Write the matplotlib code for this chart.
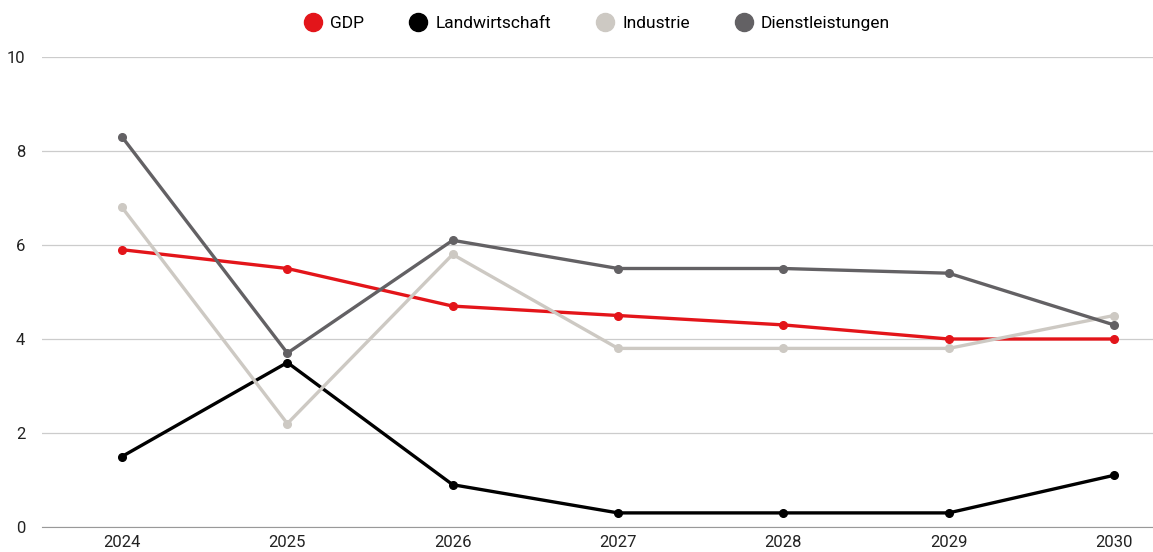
import matplotlib.pyplot as plt

years = ['2024', '2025', '2026', '2027', '2028', '2029', '2030']
gdp = [5.9, 5.5, 4.7, 4.5, 4.3, 4.0, 4.0]
landwirtschaft = [1.5, 3.5, 0.9, 0.3, 0.3, 0.3, 1.1]
industrie = [6.8, 2.2, 5.8, 3.8, 3.8, 3.8, 4.5]
dienstleistungen = [8.3, 3.7, 6.1, 5.5, 5.5, 5.4, 4.3]

series = [('GDP', gdp, '#e3151a'),
          ('Landwirtschaft', landwirtschaft, '#000000'),
          ('Industrie', industrie, '#cdc9c3'),
          ('Dienstleistungen', dienstleistungen, '#636164')]

plt.rcParams['font.family'] = ['Roboto', 'DejaVu Sans']

fig = plt.figure(figsize=(11.53, 5.52), dpi=100)
ax = fig.add_axes([42 / 1153, 25 / 552, 1 - 42 / 1153, (527 - 57) / 552])

x = list(range(len(years)))
for name, vals, col in series:
    ax.plot(x, vals, color=col, lw=2.4, marker='o', ms=5.5, label=name,
            solid_capstyle='round')

ax.set_xlim(-0.484, 6.236)
ax.set_ylim(0, 10)
ax.set_yticks([0, 2, 4, 6, 8, 10])
ax.set_xticks(x)
ax.set_xticklabels(years)
ax.grid(axis='y', color='#cccccc', lw=0.9)
ax.set_axisbelow(True)
for s in ['top', 'right', 'left']:
    ax.spines[s].set_visible(False)
ax.spines['bottom'].set_color('#999999')
ax.tick_params(axis='both', length=0, labelsize=12, colors='#222222')
ax.tick_params(axis='y', pad=12)
ax.tick_params(axis='x', pad=6)

leg = fig.legend(loc='upper center', bbox_to_anchor=(0.518, 1.0), ncol=4,
                 frameon=False, fontsize=12.5, handlelength=1.0,
                 columnspacing=2.6, handletextpad=0.5)
for h in leg.legend_handles:
    h.set_linestyle('none')
    h.set_markersize(13)

fig.savefig('out.png', dpi=100)
